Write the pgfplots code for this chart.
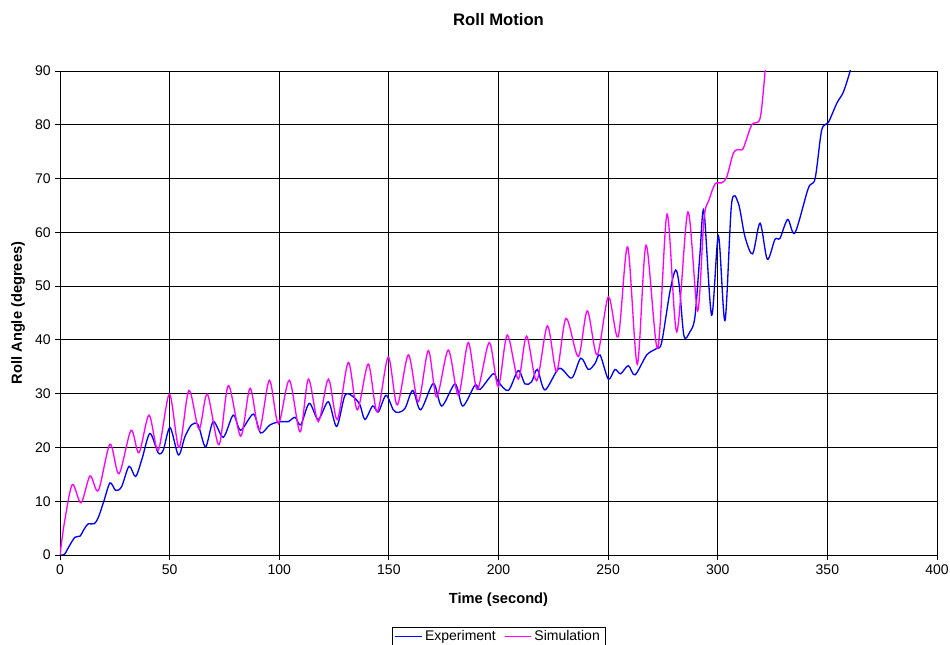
\documentclass[border=0pt]{standalone}
\usepackage{pgfplots}
\pgfplotsset{compat=1.18}
\usepackage{fontspec}
\setmainfont{Liberation Sans}
\definecolor{expblue}{RGB}{0,0,255}
\definecolor{simmag}{RGB}{255,0,255}
\begin{document}
\begin{tikzpicture}
\begin{axis}[
    name=ax,
    scale only axis,
    width=657.75pt, height=363pt,
    xmin=0, xmax=400, ymin=0, ymax=90,
    xtick={0,50,...,400}, ytick={0,10,...,90},
    tick pos=left, tick align=outside,
    major tick length=3.5pt,
    tick style={black, line width=0.6pt},
    grid=major,
    major grid style={black, line width=0.7pt},
    axis line style={black, line width=0.7pt},
    ticklabel style={font=\fontsize{10.5}{12}\selectfont},
    /pgf/number format/assume math mode=true,
    legend style={at={(0.5,0)}, anchor=center, yshift=-61pt,
        draw=black, line width=0.5pt, font=\fontsize{10.5}{12}\selectfont,
        legend columns=2, inner xsep=2pt, inner ysep=0.5pt,
        /tikz/every even column/.append style={column sep=4pt}},
    legend image code/.code={\draw[mark repeat=2,mark phase=2,#1] plot coordinates {(0cm,0cm) (0.35cm,0cm) (0.7cm,0cm)};},
]
\addplot[expblue, line width=1pt, smooth, tension=0.5] coordinates {
(0,0) (2,0.1) (4,1.5) (6.8,3.3) (9.1,3.5) (11,4.8) (12.9,5.8) (15.6,5.8)
(17.5,7) (20,10) (22.8,13.4) (25.4,12.0) (28.1,12.7) (31.5,16.5) (34.5,14.6)
(37.5,18) (41,22.6) (44.8,19.0) (47.1,19.5) (50.2,23.7) (54,18.6) (57,22)
(60,24.2) (63,24.2) (66.4,20.1) (69.9,24.8) (74.5,21.9) (79,26.0) (82.4,23.2)
(88.2,26.2) (91.5,22.7) (95.8,24.2) (100.3,24.8) (104.1,24.8) (107.2,25.6)
(109.8,24.2) (113.7,28.2) (117.8,25.2) (122.4,28.5) (126.2,23.9) (130,29.7)
(133.8,29.4) (136.8,27.9) (139.1,25.2) (142.6,27.7) (145.2,26.6) (148.7,29.7)
(152,27.0) (154.3,26.5) (157.4,27.3) (160.9,30.6) (164.5,27.0) (170.3,31.9)
(174.1,27.7) (180.2,31.8) (183.7,27.7) (189.3,31.6) (191.6,30.8) (197.6,33.7)
(199.9,32.2) (204.5,30.6) (209,34.3) (212.1,31.8) (215.1,32.2) (217.7,34.5)
(221.2,30.7) (227.7,34.7) (233.4,32.9) (237.5,36.6) (241,34.5) (244,35.6)
(246.3,37.2) (250.1,32.7) (253.1,34.5) (255.7,33.7) (259.2,35.2) (262.3,33.5)
(267.6,37.2) (272.1,38.4) (274.4,39.5) (278.2,49.0) (280.8,53.0) (282.5,49.9)
(284.6,40.7) (287.3,41.5) (289.6,44.3) (291.9,56.1) (293.7,64.0) (297.2,44.6)
(300.3,59.3) (303.3,43.6) (306.3,65.3) (309.4,65.4) (312.4,59.2) (315.9,56.0)
(319.3,61.7) (322.6,55.0) (326.1,58.7) (328.4,58.9) (331.9,62.4) (335.2,59.9)
(341.3,68.2) (344.4,70.0) (347.4,79.0) (350.4,80.4) (354.3,84.0) (357.3,86.1)
(360.3,89.9) (362,93)
};
\addlegendentry{Experiment}
\addplot[simmag, line width=1pt, smooth, tension=0.5] coordinates {
(0,0) (2,6) (5.6,13.1) (9.6,9.7) (13.7,14.7) (17.5,12.0) (22.8,20.6) (26.9,15.1)
(32.4,23.2) (36,19.0) (40.6,26.0) (44.8,19.5) (49.9,29.9) (54.3,20.0) (58.8,30.6)
(63.4,23.4) (67.2,29.9) (72.5,20.5) (76.8,31.5) (82.4,22.1) (86.7,31.0) (90.9,23.2)
(95.5,32.5) (99.6,24.4) (104.6,32.5) (109.5,22.9) (113.3,32.7) (117.8,24.8)
(122.4,32.7) (126.5,25.2) (131.5,35.8) (135.6,27.0) (140.6,35.5) (144.7,26.6)
(149.7,36.8) (153.8,27.9) (158.9,37.2) (163.4,28.5) (168,38.0) (171.8,29.4)
(177.1,38.1) (181.7,29.7) (186.2,39.5) (190.3,30.8) (195.8,39.5) (199.9,31.3)
(204,40.9) (209,32.7) (212.8,40.7) (217.4,32.4) (222.3,42.6) (226.5,34.1)
(230.8,44.0) (236.4,36.9) (240.5,45.4) (245,37.2) (250.1,48.0) (254.6,40.6)
(258.9,57.3) (263.3,35.5) (267.3,57.6) (272.6,38.4) (276.9,63.4) (281.3,41.5)
(286.4,63.8) (290.8,45.4) (293.7,62.5) (296,66) (298.8,69.0) (301.8,69.2)
(304.1,70.3) (307.1,74.7) (309.4,75.4) (311.6,75.6) (315.5,80.0) (319.3,81.2)
(321.6,89.9) (323,96)
};
\addlegendentry{Simulation}
\end{axis}
\node[font=\bfseries\fontsize{12.5}{14}\selectfont] at ([yshift=38.25pt]ax.north) {Roll Motion};
\node[font=\bfseries\fontsize{11}{13}\selectfont] at ([yshift=-33.75pt]ax.south) {Time (second)};
\node[font=\bfseries\fontsize{11}{13}\selectfont, rotate=90] at ([xshift=-31.5pt]ax.west) {Roll Angle (degrees)};
\pgfresetboundingbox
\useasboundingbox ([xshift=-45pt, yshift=-67.5pt]ax.south west) rectangle ([xshift=9.75pt, yshift=53.25pt]ax.north east);
\end{tikzpicture}
\end{document}
